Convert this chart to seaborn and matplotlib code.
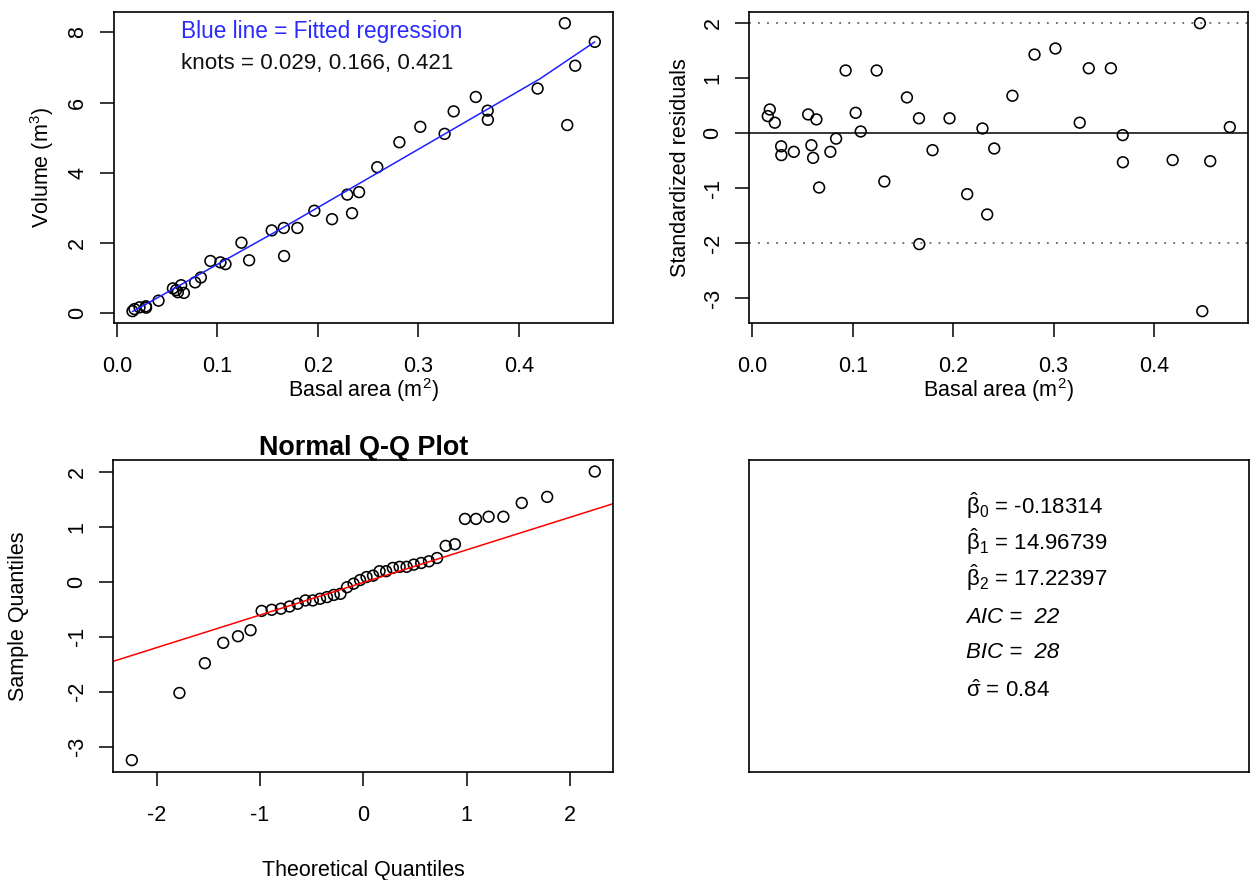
import numpy as np
import matplotlib
matplotlib.use("Agg")
import matplotlib.pyplot as plt
import seaborn as sns
from statistics import NormalDist

# ---------------- data ----------------
basal_area = [0.0155, 0.0175, 0.0225, 0.0288, 0.0290, 0.0414, 0.0557, 0.0589,
              0.0606, 0.0639, 0.0666, 0.0778, 0.0835, 0.0930, 0.1030, 0.1080,
              0.1239, 0.1315, 0.1540, 0.1660, 0.1663, 0.1795, 0.1964, 0.2140,
              0.2292, 0.2339, 0.2409, 0.2590, 0.2810, 0.3018, 0.3260, 0.3350,
              0.3570, 0.3688, 0.3690, 0.4185, 0.4456, 0.4480, 0.4559, 0.4754]
volume = [0.06, 0.12, 0.17, 0.20, 0.16, 0.36, 0.71, 0.66,
          0.60, 0.80, 0.58, 0.88, 1.02, 1.49, 1.45, 1.40,
          2.01, 1.51, 2.36, 2.43, 1.63, 2.43, 2.92, 2.68,
          3.38, 2.85, 3.45, 4.16, 4.87, 5.31, 5.11, 5.75,
          6.16, 5.77, 5.51, 6.40, 8.26, 5.36, 7.05, 7.73]
std_resid = [0.31, 0.43, 0.19, -0.24, -0.40, -0.34, 0.34, -0.22,
             -0.45, 0.25, -0.99, -0.34, -0.10, 1.14, 0.37, 0.03,
             1.14, -0.88, 0.65, 0.27, -2.02, -0.31, 0.27, -1.11,
             0.085, -1.48, -0.28, 0.68, 1.43, 1.54, 0.19, 1.18,
             1.18, -0.036, -0.53, -0.49, 2.00, -3.24, -0.51, 0.11]
knots = [0.029, 0.166, 0.421]
# fitted regression line at the ends and the knots
fitted_x = [0.0155, 0.029, 0.166, 0.421, 0.4754]
fitted_volume = [0.05, 0.26, 2.45, 6.68, 7.73]
beta_hat = ["-0.18314", "14.96739", "17.22397"]
aic_value = 22
bic_value = 28
sigma_hat = "0.84"

x_ticks_ba = [0.0, 0.1, 0.2, 0.3, 0.4]
y_ticks_vol = [0, 2, 4, 6, 8]
y_ticks_res = [-3, -2, -1, 0, 1, 2]
x_ticks_qq = [-2, -1, 0, 1, 2]

# ---------------- style ----------------
sns.set_theme(style="white")
plt.rcParams["font.family"] = ["Liberation Sans", "DejaVu Sans"]
plt.rcParams["mathtext.fontset"] = "custom"
plt.rcParams["mathtext.rm"] = "Liberation Sans"
plt.rcParams["mathtext.it"] = "Liberation Sans:italic"
plt.rcParams["mathtext.default"] = "regular"
for k in ["text.color", "axes.labelcolor", "xtick.color", "ytick.color", "axes.edgecolor"]:
    plt.rcParams[k] = "black"

FS = 15.5
W, H = 1252, 880
fig = plt.figure(figsize=(W / 100, H / 100), dpi=100)


def add_axes(left, top, right, bottom):
    return fig.add_axes([left / W, 1 - bottom / H, (right - left) / W, (bottom - top) / H])


def r_lim(v):
    v = np.asarray(v, float)
    r = v.max() - v.min()
    return v.min() - 0.04 * r, v.max() + 0.04 * r


def style(ax, xticks=None, yticks=None):
    for s in ax.spines.values():
        s.set_visible(True)
        s.set_color("black")
        s.set_linewidth(1.2)
    ax.grid(False)
    if xticks is None:
        ax.set_xticks([])
        ax.set_yticks([])
        return
    ax.set_xticks(xticks)
    ax.set_yticks(yticks)
    ax.tick_params(axis="both", direction="out", length=10, width=1.1,
                   labelsize=FS, left=True, bottom=True)
    ax.tick_params(axis="x", pad=13.8)
    ax.tick_params(axis="y", pad=8.5, labelrotation=90)


def fix_ylabels(ax):
    for lab in ax.get_yticklabels():
        lab.set_va("center")


def set_labels(ax, xl, yl, xpos, ypos):
    ax.set_xlabel(xl, fontsize=FS, va="center", ha="center")
    ax.set_ylabel(yl, fontsize=FS, va="center", ha="center")
    ax.xaxis.set_label_coords(0.5, xpos)
    ax.yaxis.set_label_coords(ypos, 0.5)


ax1 = add_axes(114, 11.7, 613.3, 322.7)
ax2 = add_axes(749.3, 11.7, 1248.3, 322.7)
ax3 = add_axes(113.3, 460, 613.3, 771.7)
ax4 = add_axes(749, 460, 1249, 772.3)

scatter_kw = dict(marker="o", s=60, facecolor="none", edgecolor="black",
                  linewidth=1.15, legend=False)

# ---------------- panel 1: volume vs basal area with fitted line ----------------
sns.scatterplot(x=basal_area, y=volume, ax=ax1, **scatter_kw)
sns.lineplot(x=fitted_x, y=fitted_volume, ax=ax1, color="#1f1fff", linewidth=1.1)
ax1.set_xlim(*r_lim(basal_area))
ax1.set_ylim(*r_lim(volume))
style(ax1, x_ticks_ba, y_ticks_vol)
ax1.set_xticklabels([f"{v:.1f}" for v in x_ticks_ba])
ax1.set_yticklabels([str(v) for v in y_ticks_vol])
fix_ylabels(ax1)
set_labels(ax1, "Basal area (m$^{2}$)", "Volume (m$^{3}$)",
           (322.7 - 390.0) / 311.0, (41.7 - 114) / 499.3)
ax1.text(0.134, 0.936, "Blue line = Fitted regression", color="#2a2aff",
         fontsize=16.3, transform=ax1.transAxes, va="center", ha="left")
ax1.text(0.134, 0.834, "knots = " + ", ".join(f"{k:.3f}" for k in knots),
         color="#111111", fontsize=16.1, transform=ax1.transAxes, va="center", ha="left")

# ---------------- panel 2: standardized residuals ----------------
sns.scatterplot(x=basal_area, y=std_resid, ax=ax2, **scatter_kw)
ax2.axhline(0, color="black", linewidth=1.1)
for lvl in (-2, 2):
    ax2.axhline(lvl, color="#666666", linewidth=1.3, linestyle=(0, (1, 4)))
ax2.set_xlim(*r_lim(basal_area))
ax2.set_ylim(*r_lim(std_resid))
style(ax2, x_ticks_ba, y_ticks_res)
ax2.set_xticklabels([f"{v:.1f}" for v in x_ticks_ba])
ax2.set_yticklabels([str(v) for v in y_ticks_res])
fix_ylabels(ax2)
set_labels(ax2, "Basal area (m$^{2}$)", "Standardized residuals",
           (322.7 - 390.0) / 311.0, (680 - 749.3) / 499.0)

# ---------------- panel 3: normal Q-Q plot ----------------
sample_q = np.sort(np.asarray(std_resid))
n = len(sample_q)
nd = NormalDist()
theo_q = np.array([nd.inv_cdf((i - 0.5) / n) for i in range(1, n + 1)])
q1, q3 = np.percentile(sample_q, [25, 75])
z1, z3 = nd.inv_cdf(0.25), nd.inv_cdf(0.75)
slope = (q3 - q1) / (z3 - z1)
intercept = q1 - slope * z1

sns.scatterplot(x=theo_q, y=sample_q, ax=ax3, **scatter_kw)
ax3.axline((0, intercept), slope=slope, color="red", linewidth=1.1)
ax3.set_xlim(*r_lim(theo_q))
ax3.set_ylim(*r_lim(sample_q))
style(ax3, x_ticks_qq, y_ticks_res)
ax3.set_xticklabels([str(v) for v in x_ticks_qq])
ax3.set_yticklabels([str(v) for v in y_ticks_res])
fix_ylabels(ax3)
set_labels(ax3, "Theoretical Quantiles", "Sample Quantiles",
           (771.7 - 870) / 311.7, (18.3 - 113.3) / 500.0)
ax3.set_title("Normal Q-Q Plot", fontsize=19.4, fontweight="bold",
              y=1 + (460 - 448.3) / 311.7, pad=0, va="center")

# ---------------- panel 4: model summary ----------------
style(ax4)
ax4.set_xlim(0, 1)
ax4.set_ylim(0, 1)
lines = [
    (r"$\hat{\beta}_0$ = " + beta_hat[0], "normal", 0.8271),
    (r"$\hat{\beta}_1$ = " + beta_hat[1], "normal", 0.7118),
    (r"$\hat{\beta}_2$ = " + beta_hat[2], "normal", 0.5975),
    (f"AIC =  {aic_value}", "italic", 0.4771),
    (f"BIC =  {bic_value}", "italic", 0.3650),
    (r"$\hat{\sigma}$ = " + sigma_hat, "normal", 0.2420),
]
for txt, fst, yy in lines:
    ax4.text(0.435, yy, txt, fontsize=16, fontstyle=fst, transform=ax4.transAxes,
             ha="left", va="baseline")

fig.savefig("out.png", dpi=100, facecolor="white")
